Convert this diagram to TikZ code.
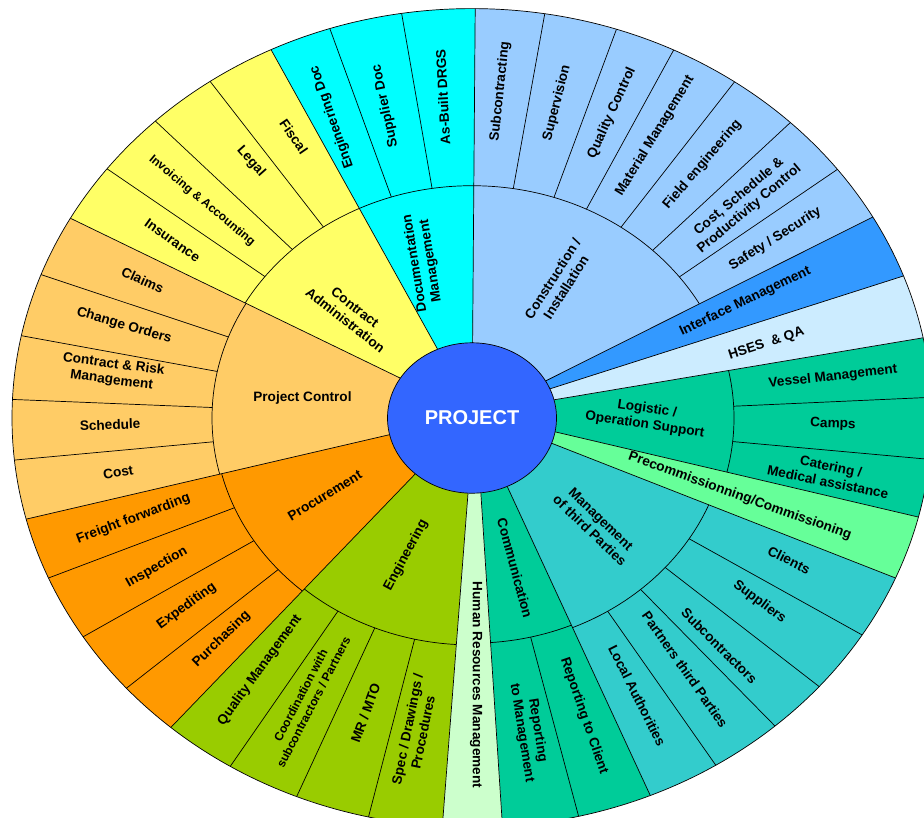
\documentclass[tikz,border=0pt]{standalone}
\usepackage{fontspec}
\setmainfont{Liberation Sans}
\usepackage{tikz}
\usetikzlibrary{calc}
\definecolor{projblue}{HTML}{3366FF}
\definecolor{contractcol}{HTML}{FFFF66}
\definecolor{doccol}{HTML}{00FFFF}
\definecolor{constrcol}{HTML}{99CCFF}
\definecolor{interfcol}{HTML}{3399FF}
\definecolor{hsescol}{HTML}{CCECFF}
\definecolor{logcol}{HTML}{00CC99}
\definecolor{precol}{HTML}{66FF99}
\definecolor{thirdcol}{HTML}{33CCCC}
\definecolor{commcol}{HTML}{00CC99}
\definecolor{hrcol}{HTML}{CCFFCC}
\definecolor{engcol}{HTML}{99CC00}
\definecolor{procol}{HTML}{FF9900}
\definecolor{ctrlcol}{HTML}{FFCC66}
% wedge: inner start, outer start, inner end, outer end
\newcommand{\wedgepath}[4]{(#1:84.5) -- (#2:460) arc[start angle=#2, end angle=#4, radius=460] -- (#3:84.5) arc[start angle=#3, end angle=#1, radius=84.5] -- cycle}

\begin{document}
\begin{tikzpicture}[x=1pt, y=1pt, line width=0.7pt,
    lbl/.style={font=\bfseries\fontsize{13.6}{16}\selectfont, align=center, inner sep=0pt},
    lblsmall/.style={lbl, font=\bfseries\fontsize{12}{14.5}\selectfont}]
   	 \useasboundingbox (0,0) rectangle (924,-817);
   	 \clip (0,0) rectangle (924,-817);
   	 \begin{scope}[shift={(472,-418)}, yscale=0.89]
   	 % groups with two rings
   	 \begin{scope}
   	 	\clip \wedgepath{29.5}{29.4}{89.6}{89.6};
   	 	\fill[constrcol] (0,0) circle (470);
   	 	\draw (0,0) circle (261);
   	 	\foreach \a in {37.4,46.2,55.2,64,71.7,80.9} \draw (\a:261) -- (\a:470);
   	 \end{scope}
   	 \begin{scope}
   	 	\clip \wedgepath{89.6}{89.6}{114}{115.9};
   	 	\fill[doccol] (0,0) circle (470);
   	 	\draw (0,0) circle (261);
   	 	\foreach \a in {98.8,108} \draw (\a:261) -- (\a:470);
   	 \end{scope}
   	 \begin{scope}
   	 	\clip \wedgepath{114}{115.9}{148}{150.8};
   	 	\fill[contractcol] (0,0) circle (470);
   	 	\draw (0,0) circle (261);
   	 	\foreach \a in {124.7,133.5,142.5} \draw (\a:261) -- (\a:470);
   	 \end{scope}
   	 \begin{scope}
   	 	\clip \wedgepath{148}{150.8}{192.8}{194.3};
   	 	\fill[ctrlcol] (0,0) circle (470);
   	 	\draw (0,0) circle (260);
   	 	\foreach \a in {159.5,168.4,177.4,185.9} \draw (\a:260) -- (\a:470);
   	 \end{scope}
   	 \begin{scope}
   	 	\clip \wedgepath{192.8}{194.3}{227.9}{229.1};
   	 	\fill[procol] (0,0) circle (470);
   	 	\draw (0,0) circle (258);
   	 	\foreach \a in {203,212.3,221.3} \draw (\a:258) -- (\a:470);
   	 \end{scope}
   	 \begin{scope}
   	 	\clip \wedgepath{227.9}{229.1}{267.3}{266.3};
   	 	\fill[engcol] (0,0) circle (470);
   	 	\draw (0,0) circle (255);
   	 	\foreach \a in {238.3,247.6,257} \draw (\a:255) -- (\a:470);
   	 \end{scope}
   	 \begin{scope}
   	 	\clip \wedgepath{276}{273.8}{294.6}{292.8};
   	 	\fill[commcol] (0,0) circle (470);
   	 	\draw (0,0) circle (253);
   	 	\draw (283.4:253) -- (283.4:470);
   	 \end{scope}
   	 \begin{scope}
   	 	\clip \wedgepath{294.6}{292.8}{340.4}{337};
   	 	\fill[thirdcol] (0,0) circle (470);
   	 	\draw (0,0) circle (256);
   	 	\foreach \a in {302,311.2,319,328} \draw (\a:256) -- (\a:470);
   	 \end{scope}
   	 \begin{scope}
   	 	\clip \wedgepath{349.4}{346}{374}{371.3};
   	 	\fill[logcol] (0,0) circle (470);
   	 	\draw (0,0) circle (262);
   	 	\foreach \a in {354.2,362.9} \draw (\a:262) -- (\a:470);
   	 \end{scope}
   	 % single bands
   	 \fill[hrcol] \wedgepath{267.3}{266.3}{276}{273.8};
   	 \fill[precol] \wedgepath{340.4}{337}{349.4}{346};
   	 \fill[hsescol] \wedgepath{14}{11.3}{22.8}{20.3};
   	 \fill[interfcol] \wedgepath{22.8}{20.3}{29.5}{29.4};
   	 \foreach \i/\o in {29.5/29.4, 89.6/89.6, 114/115.9, 148/150.8, 192.8/194.3, 227.9/229.1, 267.3/266.3, 276/273.8, 294.6/292.8, 340.4/337, 349.4/346, 14/11.3, 22.8/20.3}
   	 	\draw (\i:84.5) -- (\o:460);
   	 \draw (0,0) circle (460);
   	 \filldraw[fill=projblue] (0,0) circle (84.5);
   	 \node[lbl, text=white, font=\bfseries\fontsize{20}{24}\selectfont] (project) at (0,0) {PROJECT};
   	 % outer labels
   	 \node[lbl, rotate=84] (subcontracting) at (85.6:368) {Subcontracting};
   	 \node[lbl, rotate=76] (supervision) at (76.5:364) {Supervision};
   	 \node[lbl, rotate=65.5] (qualityctrl) at (67.8:370) {Quality Control};
   	 \node[lbl, rotate=58.5] (material) at (60:366) {Material Management};
   	 \node[lbl, rotate=49.5] (field) at (51:366) {Field engineering};
   	 \node[lbl, rotate=40] (costsched) at (41.6:364) {Cost, Schedule \&\\Productivity Control};
   	 \node[lbl, rotate=32.5] (safety) at (33.6:364) {Safety / Security};
   	 \node[lbl, rotate=25.7] (interface) at (25.6:303) {Interface Management};
   	 \node[lbl, rotate=18] (hses) at (15.8:306) {HSES\ \ \& QA};
   	 \node[lbl, rotate=6.5] (vessel) at (7.3:364) {Vessel Management};
   	 \node[lbl, rotate=-2] (camps) at (358.9:361) {Camps};
   	 \node[lbl, rotate=-11.5] (catering) at (350:363) {Catering /\\Medical assistance};
   	 \node[lbl, rotate=-19.7] (precomm) at (341.8:282) {Precommissionning/Commissioning};
   	 \node[lbl, rotate=-26.6] (clients) at (333.3:355) {Clients};
   	 \node[lbl, rotate=-37] (suppliers) at (324.3:354) {Suppliers};
   	 \node[lbl, rotate=-45] (subcontractors) at (314:356) {Subcontractors};
   	 \node[lbl, rotate=-55] (partners) at (307:354) {Partners third Parties};
   	 \node[lbl, rotate=-63.4] (local) at (297.9:353) {Local Authorities};
   	 \node[lbl, rotate=-71] (repclient) at (288.5:353) {Reporting to Client};
   	 \node[lbl, rotate=-81] (repmgmt) at (279.3:357) {Reporting\\to Management};
   	 \node[lbl, rotate=-90] (hr) at (270.8:300) {Human Resources Management};
   	 \node[lbl, rotate=78.5] (spec) at (260.8:356) {Spec / Drawings /\\Procedures};
   	 \node[lbl, rotate=70] (mrmto) at (252.2:348) {MR / MTO};
   	 \node[lblsmall, rotate=62.5] (coord) at (242.4:356) {Coordination with\\subcontractors / Partners};
   	 \node[lbl, rotate=54] (qualitymgmt) at (233.2:354) {Quality Management};
   	 \node[lbl, rotate=44] (purchasing) at (224.8:353) {Purchasing};
   	 \node[lbl, rotate=36] (expediting) at (216.5:355) {Expediting};
   	 \node[lbl, rotate=29.6] (inspection) at (208:357) {Inspection};
   	 \node[lbl, rotate=20.6] (freight) at (198.5:357) {Freight forwarding};
   	 \node[lbl, rotate=10] (cost) at (189.8:359) {Cost};
   	 \node[lbl, rotate=2] (schedule) at (181.2:362) {Schedule};
   	 \node[lbl, rotate=-7.5] (risk) at (171.9:363) {Contract \& Risk\\Management};
   	 \node[lbl, rotate=-16.6] (change) at (163.4:363) {Change Orders};
   	 \node[lbl, rotate=-24.6] (claims) at (154.8:364) {Claims};
   	 \node[lbl, rotate=-35.7] (insurance) at (146.3:360) {Insurance};
   	 \node[lblsmall, rotate=-40] (invoicing) at (137.9:364) {Invoicing \& Accounting};
   	 \node[lbl, rotate=-48.6] (legal) at (127.5:363) {Legal};
   	 \node[lbl, rotate=-55.6] (fiscal) at (119.4:363) {Fiscal};
   	 \node[lbl, rotate=109.3] (engdoc) at (112.5:366) {Engineering Doc};
   	 \node[lbl, rotate=102] (suppdoc) at (103.9:361) {Supplier Doc};
   	 \node[lbl, rotate=93] (asbuilt) at (94.6:362) {As-Built DRGS};
   	 % inner labels
   	 \node[lbl, rotate=99] (docmgmt) at (105.6:182) {Documentation\\Management};
   	 \node[lbl, rotate=-38] (contradmin) at (136.1:169) {Contract\\Administration};
   	 \node[lbl] (projctrl) at (172.5:171) {Project Control};
   	 \node[lbl, rotate=31.3] (procurement) at (210.6:171) {Procurement};
   	 \node[lbl, rotate=62] (engineering) at (246.9:168) {Engineering};
   	 \node[lbl, rotate=-75] (communication) at (284.3:174) {Communication};
   	 \node[lbl, rotate=-44] (thirdparties) at (315.8:172) {Management\\of third Parties};
   	 \node[lbl, rotate=-8.5] (logistic) at (0.4:174) {Logistic /\\Operation Support};
   	 \node[lbl, rotate=57.4] (construction) at (60.1:175) {Construction /\\Installation};
   	 \end{scope}
    \end{tikzpicture}
\end{document}
